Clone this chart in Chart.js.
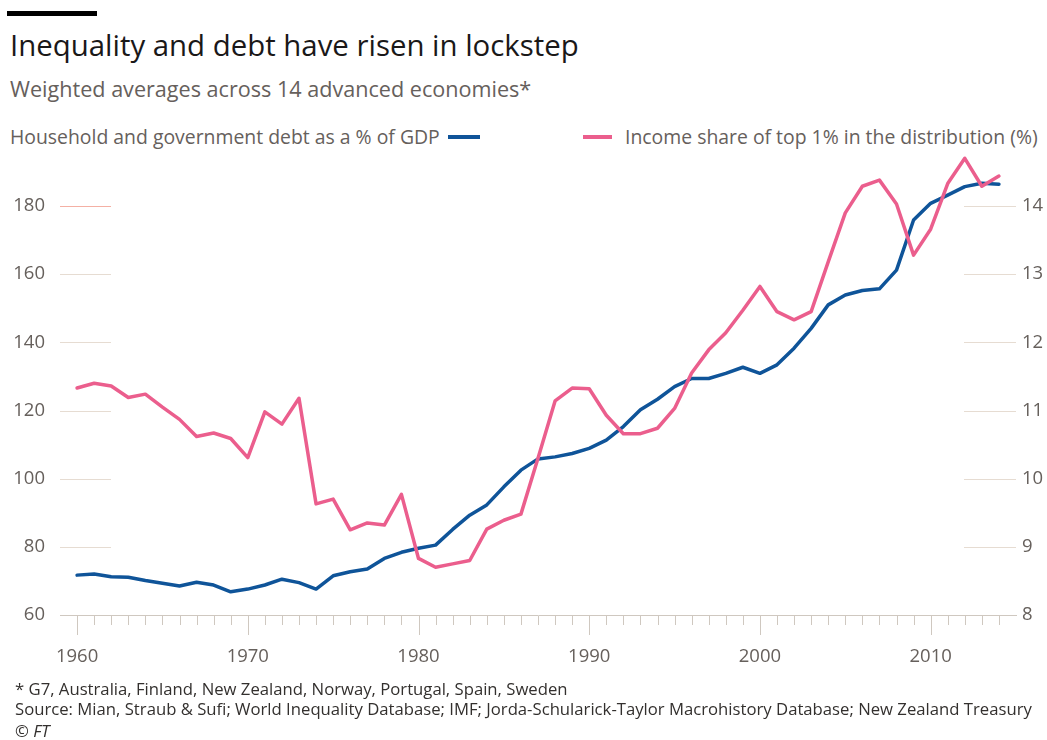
<!DOCTYPE html>
<html>
<head>
<meta charset="utf-8">
<script src="https://cdn.jsdelivr.net/npm/chart.js@4.4.1/dist/chart.umd.min.js"></script>
<style>
  body { margin: 0; background: #fff; font-family: "Open Sans", sans-serif; }
  #wrap { position: relative; width: 1047px; height: 740px; overflow: hidden; }
  #grafica { position: absolute; left: 0; top: 0; }
  .txt { position: absolute; white-space: nowrap; line-height: 1; }
  .barra { position: absolute; left: 7px; top: 11px; width: 90px; height: 5px; background: #000; }
  .titulo { left: 10px; top: 30.6px; font-size: 29.4px; color: #1a1818; }
  .subtitulo { left: 10px; top: 77.5px; font-size: 21.6px; color: #66605c; }
  .leyenda { top: 126.8px; font-size: 19.4px; color: #66605c; }
  .raya { position: absolute; height: 4px; top: 135px; }
  .nota { left: 15px; font-size: 16.7px; color: #33302e; }
</style>
</head>
<body>
<div id="wrap">
  <div class="barra"></div>
  <div class="txt titulo">Inequality and debt have risen in lockstep</div>
  <div class="txt subtitulo">Weighted averages across 14 advanced economies*</div>

  <div class="txt leyenda" style="left:10px">Household and government debt as a % of GDP</div>
  <div class="raya" style="left:448px; width:32px; background:#0f5499"></div>
  <div class="raya" style="left:583px; width:29px; background:#eb5e8d"></div>
  <div class="txt leyenda" style="left:625px">Income share of top 1% in the distribution (%)</div>

  <canvas id="grafica" width="1047" height="740"></canvas>

  <div class="txt nota" style="top:681px">* G7, Australia, Finland, New Zealand, Norway, Portugal, Spain, Sweden</div>
  <div class="txt nota" style="top:701px">Source: Mian, Straub &amp; Sufi; World Inequality Database; IMF; Jorda-Schularick-Taylor Macrohistory Database; New Zealand Treasury</div>
  <div class="txt nota" style="top:723px; font-style:italic">© FT</div>
</div>

<script>
// ------------- Datos de la grafica -------------
const anios = [
  1960, 1961, 1962, 1963, 1964, 1965, 1966, 1967, 1968, 1969,
  1970, 1971, 1972, 1973, 1974, 1975, 1976, 1977, 1978, 1979,
  1980, 1981, 1982, 1983, 1984, 1985, 1986, 1987, 1988, 1989,
  1990, 1991, 1992, 1993, 1994, 1995, 1996, 1997, 1998, 1999,
  2000, 2001, 2002, 2003, 2004, 2005, 2006, 2007, 2008, 2009,
  2010, 2011, 2012, 2013, 2014
];

// deuda hogares + gobierno, % del PIB (eje izquierdo)
const deuda = [
  71.7, 72.0, 71.2, 71.1, 70.1, 69.3, 68.5, 69.6, 68.8, 66.8,
  67.6, 68.8, 70.5, 69.5, 67.6, 71.5, 72.7, 73.5, 76.6, 78.4,
  79.6, 80.5, 85.1, 89.3, 92.3, 97.6, 102.5, 105.8, 106.4, 107.4,
  108.9, 111.3, 115.3, 120.2, 123.3, 127.0, 129.4, 129.4, 130.9, 132.7,
  130.9, 133.4, 138.3, 144.1, 151.0, 153.9, 155.2, 155.7, 161.2, 175.9,
  180.8, 183.2, 185.7, 186.7, 186.4
];

// participacion del 1% superior, % (eje derecho)
const top1 = [
  11.33, 11.40, 11.36, 11.19, 11.24, 11.05, 10.87, 10.62, 10.67, 10.59,
  10.31, 10.98, 10.80, 11.18, 9.63, 9.70, 9.25, 9.35, 9.32, 9.77,
  8.83, 8.70, 8.75, 8.80, 9.26, 9.39, 9.48, 10.30, 11.14, 11.33,
  11.32, 10.93, 10.66, 10.66, 10.74, 11.03, 11.55, 11.89, 12.14, 12.47,
  12.82, 12.45, 12.33, 12.45, 13.18, 13.90, 14.29, 14.38, 14.03, 13.28,
  13.66, 14.33, 14.70, 14.29, 14.44
];

const ticksIzq = [60, 80, 100, 120, 140, 160, 180];
const ticksDer = [8, 9, 10, 11, 12, 13, 14];
const ticksX = [1960, 1970, 1980, 1990, 2000, 2010];

const azul = '#0f5499';
const rosa = '#eb5e8d';
const gris = '#66605c';
const colorGrid = '#e6dcd2';
const colorEje = '#cfc8c0';

// lineas cortas de grilla junto a cada eje + marcas de anios
const grillaCorta = {
  id: 'grillaCorta',
  beforeDatasetsDraw(chart) {
    const ctx = chart.ctx;
    const area = chart.chartArea;
    const yL = chart.scales.yL;
    const yR = chart.scales.yR;
    const x = chart.scales.x;
    ctx.save();
    ctx.lineWidth = 1;
    ticksIzq.forEach(v => {
      if (v === ticksIzq[0]) return;
      const y = Math.round(yL.getPixelForValue(v)) + 0.5;
      ctx.strokeStyle = v === 180 ? '#f4b0a4' : colorGrid;
      ctx.beginPath();
      ctx.moveTo(area.left, y);
      ctx.lineTo(area.left + 51, y);
      ctx.stroke();
    });
    ticksDer.forEach(v => {
      if (v === ticksDer[0]) return;
      const y = Math.round(yR.getPixelForValue(v)) + 0.5;
      ctx.strokeStyle = colorGrid;
      ctx.beginPath();
      ctx.moveTo(area.right - 52, y);
      ctx.lineTo(area.right, y);
      ctx.stroke();
    });
    ctx.strokeStyle = colorEje;
    anios.forEach(a => {
      const px = Math.round(x.getPixelForValue(a)) + 0.5;
      const largo = a % 10 === 0 ? 20 : 10;
      ctx.beginPath();
      ctx.moveTo(px, area.bottom + 1);
      ctx.lineTo(px, area.bottom + largo);
      ctx.stroke();
    });
    ctx.restore();
  }
};

const fuenteEje = { family: 'Open Sans', size: 18.5 };

new Chart(document.getElementById('grafica'), {
  type: 'line',
  data: {
    datasets: [
      {
        label: 'Household and government debt as a % of GDP',
        data: anios.map((a, i) => ({ x: a, y: deuda[i] })),
        borderColor: azul,
        borderWidth: 3.5,
        yAxisID: 'yL',
        order: 2
      },
      {
        label: 'Income share of top 1% in the distribution (%)',
        data: anios.map((a, i) => ({ x: a, y: top1[i] })),
        borderColor: rosa,
        borderWidth: 3.5,
        yAxisID: 'yR',
        order: 1
      }
    ]
  },
  options: {
    responsive: false,
    animation: false,
    devicePixelRatio: 1,
    layout: { padding: { top: 151.5, left: 0, right: 0, bottom: 0 } },
    elements: {
      point: { radius: 0, hoverRadius: 0 },
      line: { tension: 0, borderJoinStyle: 'round', borderCapStyle: 'round' }
    },
    plugins: { legend: { display: false }, tooltip: { enabled: false } },
    scales: {
      x: {
        type: 'linear',
        min: 1959,
        max: 2015,
        afterBuildTicks: s => { s.ticks = ticksX.map(v => ({ value: v })); },
        afterFit: s => { s.height = 125; },
        grid: { display: false, drawTicks: false },
        border: { display: true, color: colorEje, width: 1 },
        ticks: {
          padding: 31,
          color: gris,
          font: fuenteEje,
          maxRotation: 0,
          autoSkip: false,
          callback: v => String(v)
        }
      },
      yL: {
        position: 'left',
        min: 60,
        max: 196,
        afterBuildTicks: s => { s.ticks = ticksIzq.map(v => ({ value: v })); },
        afterFit: s => { s.width = 60; },
        grid: { display: false, drawTicks: false },
        border: { display: false },
        ticks: { padding: 15, color: gris, font: fuenteEje }
      },
      yR: {
        position: 'right',
        min: 8,
        max: 14.8,
        afterBuildTicks: s => { s.ticks = ticksDer.map(v => ({ value: v })); },
        afterFit: s => { s.width = 31; },
        grid: { display: false, drawTicks: false },
        border: { display: false },
        ticks: { padding: 6, color: gris, font: fuenteEje }
      }
    }
  },
  plugins: [grillaCorta]
});
</script>
</body>
</html>
